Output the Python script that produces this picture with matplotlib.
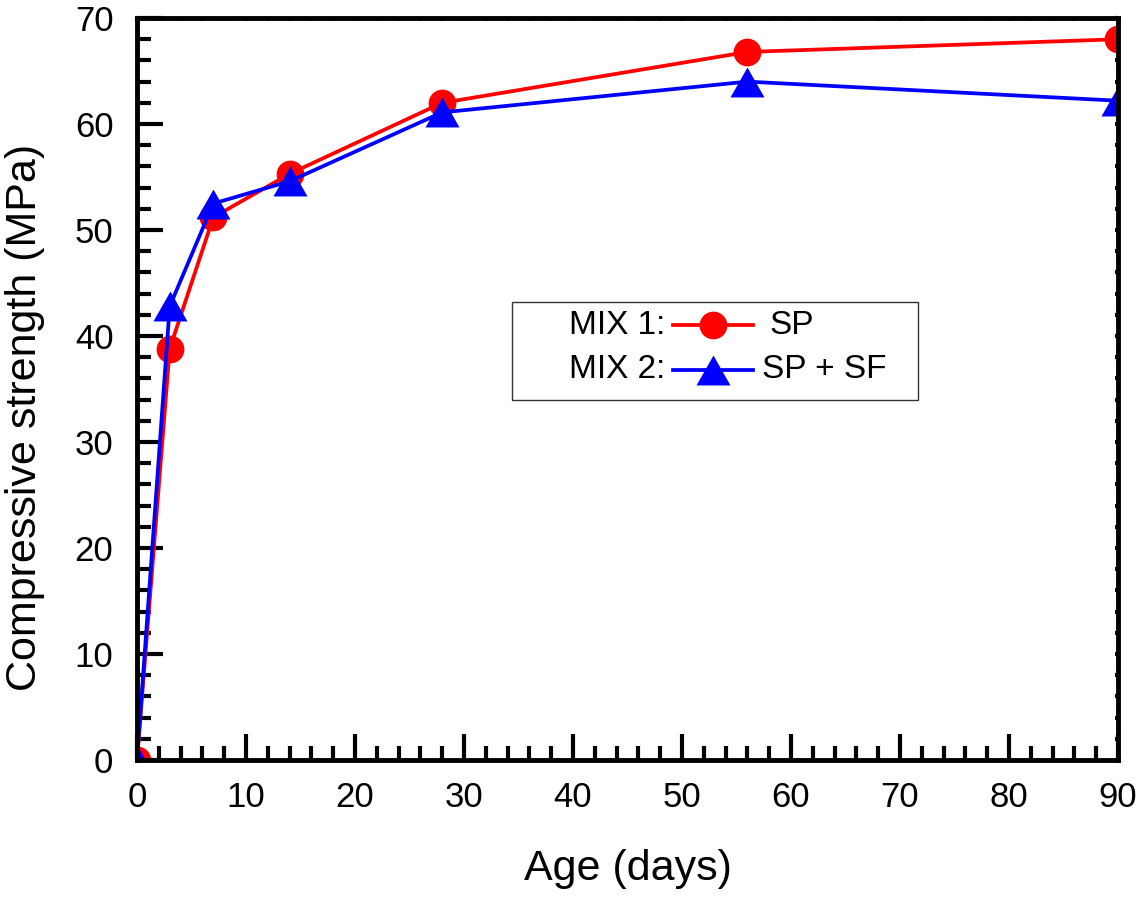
import matplotlib
matplotlib.use("Agg")
import matplotlib.pyplot as plt
from matplotlib.lines import Line2D
from matplotlib.patches import Rectangle
from matplotlib.ticker import MultipleLocator

plt.rcParams['font.family'] = ['Liberation Sans', 'DejaVu Sans']

age_days = [0, 3, 7, 14, 28, 56, 90]
mix1_sp = [0, 38.8, 51.2, 55.3, 62.0, 66.8, 68.0]
mix2_sp_sf = [0, 42.8, 52.5, 54.6, 61.1, 64.0, 62.2]

mix_names = ["MIX 1:", "MIX 2:"]
series_labels = ["SP", "SP + SF"]

fig = plt.figure(figsize=(11.36, 8.97), dpi=100)
ax = fig.add_axes([0.1206, 0.1527, 0.8636, 0.8272])

tri = [(0, 0.88), (-1, -0.88), (1, -0.88)]
CIRC_MS = 20
TRI_MS = 24.5
LW = 2.7

ax.plot(age_days, mix1_sp, color='#ff0000', lw=LW, marker='o', ms=CIRC_MS,
        mec='#ff0000', mfc='#ff0000', mew=0)
ax.plot(age_days, mix2_sp_sf, color='#0000ff', lw=LW, marker=tri, ms=TRI_MS,
        mec='#0000ff', mfc='#0000ff', mew=0)

ax.set_xlim(0, 90)
ax.set_ylim(0, 70)
ax.xaxis.set_major_locator(MultipleLocator(10))
ax.xaxis.set_minor_locator(MultipleLocator(2))
ax.yaxis.set_major_locator(MultipleLocator(10))
ax.yaxis.set_minor_locator(MultipleLocator(2))

for s in ax.spines.values():
    s.set_linewidth(3.5)

ax.tick_params(axis='both', which='major', direction='in', length=19, width=3,
               labelsize=25, top=True, right=True)
ax.tick_params(axis='both', which='minor', direction='in', length=10, width=3,
               top=True, right=True)
ax.tick_params(axis='x', which='major', pad=15)
ax.tick_params(axis='y', which='major', pad=17)
# tiny ticks on top/right
for t in ax.xaxis.get_major_ticks() + ax.xaxis.get_minor_ticks():
    t.tick2line.set_markersize(2)
for t in ax.yaxis.get_major_ticks() + ax.yaxis.get_minor_ticks():
    t.tick2line.set_markersize(2)

ax.set_xlabel("Age (days)", fontsize=31)
ax.set_ylabel("Compressive strength (MPa)", fontsize=31)
ax.xaxis.set_label_coords(0.5, -0.12)
ax.yaxis.set_label_coords(-0.094, 0.462)

# legend box drawn manually
ax.add_patch(Rectangle((0.382, 0.485), 0.796 - 0.382, 0.617 - 0.485,
                       transform=ax.transAxes, fill=True, facecolor='white',
                       edgecolor='#333333', lw=1.0, zorder=5))
rows_y = [0.586, 0.526]
styles = [dict(color='#ff0000', marker='o', ms=CIRC_MS),
          dict(color='#0000ff', marker=tri, ms=TRI_MS)]
label_x = [0.645, 0.637]
for i in range(2):
    y = rows_y[i]
    ax.text(0.538, y, mix_names[i], transform=ax.transAxes, ha='right',
            va='center', fontsize=24, zorder=6)
    ax.add_line(Line2D([0.546, 0.628], [y, y], transform=ax.transAxes,
                       lw=LW, zorder=6, color=styles[i]['color']))
    ax.add_line(Line2D([0.587], [y], transform=ax.transAxes, lw=0,
                       marker=styles[i]['marker'], ms=styles[i]['ms'],
                       mfc=styles[i]['color'], mec=styles[i]['color'], mew=0,
                       zorder=7, clip_on=False))
    ax.text(label_x[i], y, series_labels[i], transform=ax.transAxes,
            ha='left', va='center', fontsize=24, zorder=6)

fig.savefig("out.png", dpi=100)
